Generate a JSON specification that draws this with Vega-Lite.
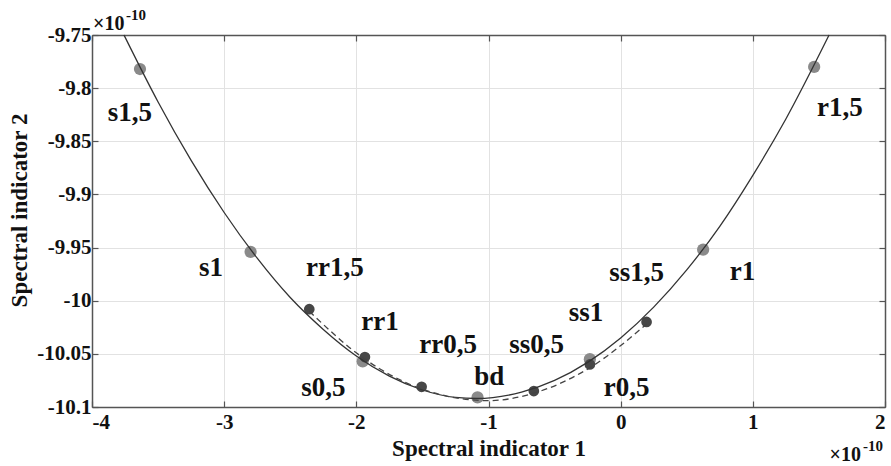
{
  "$schema": "https://vega.github.io/schema/vega-lite/v6.json",
  "autosize": {"type": "none"},
  "padding": {"left": 92, "top": 35, "right": 6, "bottom": 59},
  "width": 793,
  "height": 372,
  "background": "white",
  "config": {
    "view": {"stroke": null},
    "axis": {
      "labelFont": "Liberation Serif",
      "labelFontWeight": "bold",
      "labelFontSize": 21,
      "labelColor": "#111111",
      "titleFont": "Liberation Serif",
      "titleFontWeight": "bold",
      "titleFontSize": 23,
      "titleColor": "#111111",
      "domainColor": "#555555",
      "domainWidth": 1.5,
      "tickColor": "#555555",
      "tickWidth": 1.2,
      "tickSize": -6,
      "gridColor": "#e2e2e2",
      "gridWidth": 1
    }
  },
  "datasets": {
    "curve": [
      {"x": -3.758, "y": -9.75},
      {"x": -3.5, "y": -9.813},
      {"x": -3.25, "y": -9.868},
      {"x": -3.0, "y": -9.917},
      {"x": -2.75, "y": -9.96},
      {"x": -2.5, "y": -9.997},
      {"x": -2.25, "y": -10.027},
      {"x": -2.0, "y": -10.052},
      {"x": -1.75, "y": -10.071},
      {"x": -1.5, "y": -10.084},
      {"x": -1.25, "y": -10.091},
      {"x": -1.09, "y": -10.092},
      {"x": -0.75, "y": -10.086},
      {"x": -0.5, "y": -10.075},
      {"x": -0.25, "y": -10.058},
      {"x": 0.0, "y": -10.035},
      {"x": 0.25, "y": -10.006},
      {"x": 0.5, "y": -9.971},
      {"x": 0.75, "y": -9.93},
      {"x": 1.0, "y": -9.882},
      {"x": 1.25, "y": -9.829},
      {"x": 1.577, "y": -9.75}
    ],
    "dashed": [
      {"x": -2.356, "y": -10.01},
      {"x": -1.935, "y": -10.055},
      {"x": -1.506, "y": -10.083},
      {"x": -1.0, "y": -10.094},
      {"x": -0.657, "y": -10.087},
      {"x": -0.233, "y": -10.063},
      {"x": 0.196, "y": -10.022}
    ],
    "light": [
      {"name": "s1,5", "x": -3.637, "y": -9.782},
      {"name": "s1", "x": -2.8, "y": -9.954},
      {"name": "s0,5", "x": -1.952, "y": -10.057},
      {"name": "bd", "x": -1.083, "y": -10.091},
      {"name": "r0,5", "x": -0.233, "y": -10.055},
      {"name": "r1", "x": 0.624, "y": -9.952},
      {"name": "r1,5", "x": 1.464, "y": -9.78}
    ],
    "dark": [
      {"name": "rr1,5", "x": -2.356, "y": -10.008},
      {"name": "rr1", "x": -1.935, "y": -10.053},
      {"name": "rr0,5", "x": -1.506, "y": -10.081},
      {"name": "ss0,5", "x": -0.657, "y": -10.085},
      {"name": "ss1", "x": -0.233, "y": -10.06},
      {"name": "ss1,5", "x": 0.196, "y": -10.02}
    ],
    "labels": [
      {"label": "s1,5", "x": -3.713, "y": -9.823},
      {"label": "r1,5", "x": 1.658, "y": -9.819},
      {"label": "s1", "x": -3.1, "y": -9.9695},
      {"label": "r1", "x": 0.922, "y": -9.973},
      {"label": "rr1,5", "x": -2.162, "y": -9.969},
      {"label": "rr1", "x": -1.821, "y": -10.02},
      {"label": "rr0,5", "x": -1.305, "y": -10.042},
      {"label": "s0,5", "x": -2.25, "y": -10.082},
      {"label": "bd", "x": -0.995, "y": -10.0715},
      {"label": "ss0,5", "x": -0.636, "y": -10.042},
      {"label": "ss1", "x": -0.263, "y": -10.012},
      {"label": "ss1,5", "x": 0.12, "y": -9.974},
      {"label": "r0,5", "x": 0.045, "y": -10.082}
    ],
    "expTL": [{"x": -4, "y": -9.75}],
    "expBR": [{"x": 2, "y": -10.1}]
  },
  "layer": [
    {
      "data": {"name": "light"},
      "mark": {"type": "point", "filled": true, "size": 150, "color": "#8a8a8a", "opacity": 1},
      "encoding": {
        "x": {
          "field": "x", "type": "quantitative",
          "scale": {"domain": [-4, 2], "nice": false, "zero": false},
          "axis": {
            "orient": "bottom",
            "values": [-4, -3, -2, -1, 0, 1, 2],
            "labelExpr": "replace(format(datum.value, 'd'), '\u2212', '-')",
            "labelPadding": 10,
            "grid": true,
            "title": "Spectral indicator 1",
            "titleX": 396.5,
            "titleY": 41,
            "titleBaseline": "middle",
            "titleAlign": "center"
          }
        },
        "y": {
          "field": "y", "type": "quantitative",
          "scale": {"domain": [-10.1, -9.75], "nice": false, "zero": false},
          "axis": {
            "orient": "left",
            "values": [-10.1, -10.05, -10, -9.95, -9.9, -9.85, -9.8, -9.75],
            "labelExpr": "replace(format(datum.value, '.2~f'), '\u2212', '-')",
            "labelPadding": 7,
            "grid": true,
            "title": "Spectral indicator 2",
            "titleX": -73,
            "titleY": 175,
            "titleBaseline": "middle",
            "titleAlign": "center",
            "titleAngle": -90
          }
        }
      }
    },
    {
      "data": {"name": "dark"},
      "mark": {"type": "point", "filled": true, "size": 115, "color": "#474747", "opacity": 1},
      "encoding": {
        "x": {
          "field": "x", "type": "quantitative",
          "axis": {
            "orient": "top",
            "values": [-4, -3, -2, -1, 0, 1, 2],
            "labels": false,
            "grid": false,
            "title": null
          }
        },
        "y": {
          "field": "y", "type": "quantitative",
          "axis": {
            "orient": "right",
            "values": [-10.1, -10.05, -10, -9.95, -9.9, -9.85, -9.8, -9.75],
            "labels": false,
            "grid": false,
            "title": null
          }
        }
      }
    },
    {
      "data": {"name": "curve"},
      "mark": {"type": "line", "color": "#333333", "strokeWidth": 1.3, "interpolate": "monotone"},
      "encoding": {
        "x": {"field": "x", "type": "quantitative", "axis": null},
        "y": {"field": "y", "type": "quantitative", "axis": null}
      }
    },
    {
      "data": {"name": "dashed"},
      "mark": {"type": "line", "color": "#444444", "strokeWidth": 1.3, "strokeDash": [6, 4], "interpolate": "monotone"},
      "encoding": {
        "x": {"field": "x", "type": "quantitative", "axis": null},
        "y": {"field": "y", "type": "quantitative", "axis": null}
      }
    },
    {
      "data": {"name": "labels"},
      "mark": {"type": "text", "font": "Liberation Serif", "fontWeight": "bold", "fontSize": 27, "color": "#111111", "align": "center", "baseline": "middle"},
      "encoding": {
        "x": {"field": "x", "type": "quantitative", "axis": null},
        "y": {"field": "y", "type": "quantitative", "axis": null},
        "text": {"field": "label"}
      }
    },
    {
      "data": {"name": "expTL"},
      "mark": {"type": "text", "text": "×10", "font": "Liberation Serif", "fontWeight": "bold", "fontSize": 20, "color": "#111111", "align": "left", "baseline": "alphabetic", "dx": 1, "dy": -5},
      "encoding": {
        "x": {"field": "x", "type": "quantitative", "axis": null},
        "y": {"field": "y", "type": "quantitative", "axis": null}
      }
    },
    {
      "data": {"name": "expTL"},
      "mark": {"type": "text", "text": "-10", "font": "Liberation Serif", "fontWeight": "bold", "fontSize": 15, "color": "#111111", "align": "left", "baseline": "alphabetic", "dx": 34, "dy": -15},
      "encoding": {
        "x": {"field": "x", "type": "quantitative", "axis": null},
        "y": {"field": "y", "type": "quantitative", "axis": null}
      }
    },
    {
      "data": {"name": "expBR"},
      "mark": {"type": "text", "text": "×10", "font": "Liberation Serif", "fontWeight": "bold", "fontSize": 20, "color": "#111111", "align": "right", "baseline": "alphabetic", "dx": -24, "dy": 54},
      "encoding": {
        "x": {"field": "x", "type": "quantitative", "axis": null},
        "y": {"field": "y", "type": "quantitative", "axis": null}
      }
    },
    {
      "data": {"name": "expBR"},
      "mark": {"type": "text", "text": "-10", "font": "Liberation Serif", "fontWeight": "bold", "fontSize": 15, "color": "#111111", "align": "right", "baseline": "alphabetic", "dx": -2, "dy": 44},
      "encoding": {
        "x": {"field": "x", "type": "quantitative", "axis": null},
        "y": {"field": "y", "type": "quantitative", "axis": null}
      }
    }
  ],
  "resolve": {"axis": {"x": "independent", "y": "independent"}}
}
